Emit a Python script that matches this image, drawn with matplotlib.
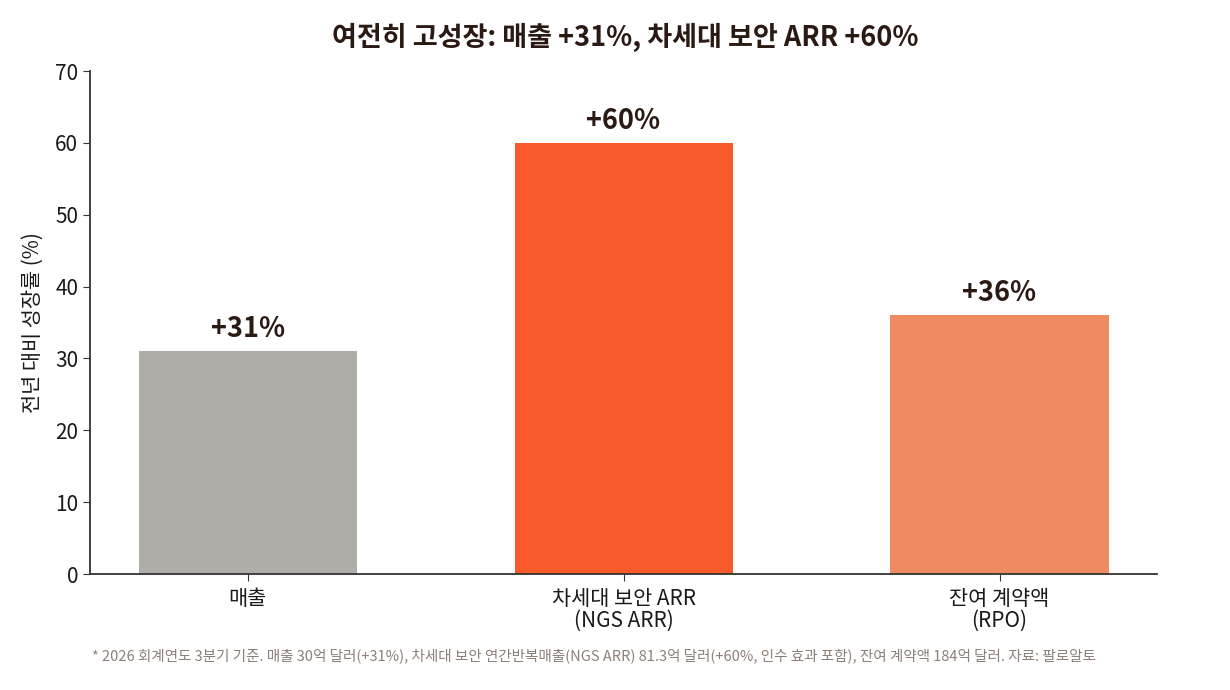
import matplotlib
matplotlib.use("Agg")
import matplotlib.pyplot as plt

plt.rcParams['font.family'] = ['Noto Sans CJK KR', 'DejaVu Sans']

categories = ["매출", "차세대 보안 ARR\n(NGS ARR)", "잔여 계약액\n(RPO)"]
values = [31, 60, 36]
labels = ["+31%", "+60%", "+36%"]
colors = ["#B0ADA8", "#F95A2C", "#F08A60"]
title = "여전히 고성장: 매출 +31%, 차세대 보안 ARR +60%"
ylabel = "전년 대비 성장률 (%)"
footnote = ("* 2026 회계연도 3분기 기준. 매출 30억 달러(+31%), 차세대 보안 연간반복매출(NGS ARR) 81.3억 달러"
            "(+60%, 인수 효과 포함), 잔여 계약액 184억 달러. 자료: 팔로알토")

dark = "#2B1A14"
fig = plt.figure(figsize=(12.3, 6.9), dpi=100)
ax = fig.add_axes([0.0732, 0.1681, 0.8675, 0.729])

x = list(range(len(categories)))
bars = ax.bar(x, values, width=0.58, color=colors)
for xi, v, lab in zip(x, values, labels):
    ax.annotate(lab, (xi, v), xytext=(0, 6), textcoords="offset points",
                ha="center", va="bottom", fontsize=19.5, fontweight="bold", color=dark)

ax.set_ylim(0, 70)
ax.set_yticks(range(0, 71, 10))
ax.set_xticks(x)
ax.set_xticklabels(categories, fontsize=15, color="#1a1a1a", linespacing=1.0)
ax.tick_params(axis='y', labelsize=15, colors="#1a1a1a")
ax.tick_params(axis='both', color="#333333", length=5)
ax.tick_params(axis='x', pad=5)
ax.set_ylabel(ylabel, fontsize=15, color="#1a1a1a", labelpad=8)
for s in ["top", "right"]:
    ax.spines[s].set_visible(False)
for s in ["left", "bottom"]:
    ax.spines[s].set_color("#333333")
    ax.spines[s].set_linewidth(1.3)

fig.text(0.508, 0.946, title, ha="center", va="center", fontsize=19.5, fontweight="bold", color=dark)
fig.text(0.075, 0.05, footnote, ha="left", va="center", fontsize=10.5, color="#8C7F77")

fig.savefig("out.png", dpi=100)
